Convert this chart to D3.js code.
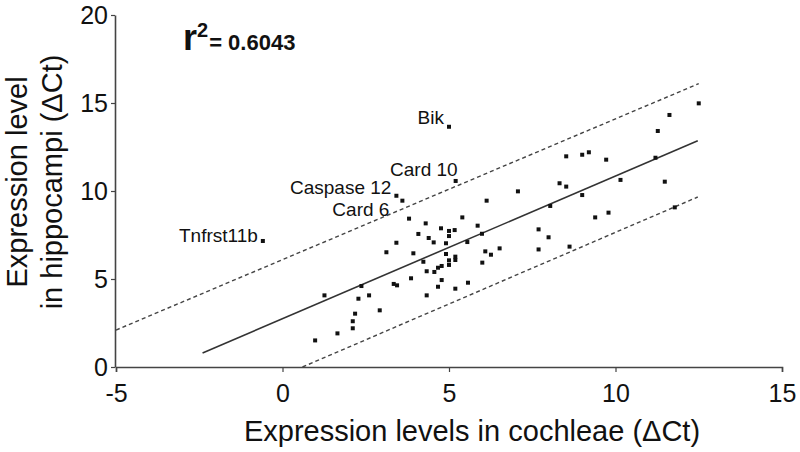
<!DOCTYPE html>
<html lang='en'>
<head>
    <meta charset='UTF-8'>
    <title>Cochlea vs hippocampi expression</title>
    <style>
        body { margin: 0; background: #fff; }
        svg text { font-family: 'Liberation Sans', Arial, sans-serif; fill: #111; }
    </style>
</head>
<body>
<div id="chart-area"></div>
<script src='https://d3js.org/d3.v7.min.js'></script>
<script>

    // expression levels (delta Ct): cochleae on x, hippocampi on y
    const cochleaValues = [
        5.0, 5.2, 3.42, 3.6, -0.59,
        6.13, 3.8, 5.4, 4.3, 4.76, 5.0, 5.17, 5.86, 4.08, 4.39, 4.54, 5.0, 4.91,
        3.42, 3.12, 3.93, 5.55, 5.99, 4.91, 5.0, 5.19, 5.19, 4.23, 5.0, 4.78, 4.67,
        4.33, 4.56, 6.09, 6.26, 6.0, 6.52, 3.86, 3.34, 3.44, 4.78, 4.67, 5.19, 5.57,
        4.33, 2.37, 1.26, 2.6, 2.28, 2.92, 2.18, 2.11, 2.11, 1.65, 0.98,
        12.5, 11.62, 11.27, 8.52, 9.0, 9.2, 9.72, 11.2, 8.32, 8.52, 7.07, 10.15,
        11.48, 9.0, 8.04, 9.39, 9.79, 11.78, 7.69, 7.99, 7.69, 8.62
    ];
    const hippocampiValues = [
        13.65, 10.57, 9.73, 9.45, 7.16,
        9.45, 8.43, 8.5, 8.16, 7.88, 7.73, 7.78, 8.03, 7.56, 7.33, 7.08, 7.44, 7.03,
        7.06, 6.52, 6.46, 7.1, 7.57, 6.42, 6.06, 6.27, 6.08, 5.98, 5.8, 5.74, 5.64,
        5.44, 5.4, 6.57, 6.38, 5.93, 6.74, 5.04, 4.72, 4.64, 4.94, 4.56, 4.45, 4.79,
        4.07, 4.6, 4.07, 4.07, 3.88, 3.22, 3.03, 2.6, 2.2, 1.91, 1.51,
        14.98, 14.32, 13.41, 11.97, 12.06, 12.2, 11.78, 11.89, 10.44, 10.25, 9.98, 10.63,
        10.53, 9.77, 9.15, 8.5, 8.77, 9.07, 7.82, 7.37, 6.68, 6.84
    ];
    // gene names for the first few points
    const geneLabels = ['Bik', 'Card 10', 'Caspase 12', 'Card 6', 'Tnfrst11b'];

    // regression line and its prediction band, as [x, y] end points
    const fitLine = [[-2.4, 0.8], [12.47, 12.85]];
    const upperBand = [[-5, 2.1], [12.5, 16.1]];
    const lowerBand = [[0.6, 0], [12.47, 9.66]];

    const xTicks = [-5, 0, 5, 10, 15];
    const yTicks = [0, 5, 10, 15, 20];
    const rSquared = '0.6043';

    const points = cochleaValues.map((x, i) => ({x: x, y: hippocampiValues[i], label: geneLabels[i]}));

    const outerWidth = 800;
    const outerHeight = 452;
    const axisColor = '#444';

    const svg = d3.select('#chart-area').append('svg')
        .attr('width', outerWidth)
        .attr('height', outerHeight);

    const xScale = d3.scaleLinear().domain([-5, 15]).range([116, 782]);
    const yScale = d3.scaleLinear().domain([0, 20]).range([367, 15]);

    const gx = svg.append('g')
        .attr('transform', `translate(0, ${yScale(0)})`)
        .call(d3.axisBottom(xScale).tickValues(xTicks).tickFormat(d => String(d))
            .tickSize(5).tickPadding(12).tickSizeOuter(5));
    const gy = svg.append('g')
        .attr('transform', `translate(${xScale(-5) - 1}, 0)`)
        .call(d3.axisLeft(yScale).tickValues(yTicks).tickSize(4).tickPadding(3).tickSizeOuter(0));

    [gx, gy].forEach(g => {
        g.select('.domain').attr('stroke', axisColor).attr('stroke-width', 1.6);
        g.selectAll('.tick line').attr('stroke', axisColor).attr('stroke-width', 1.2);
        g.selectAll('.tick text')
            .attr('fill', '#111')
            .style('font-family', "'Liberation Sans', Arial, sans-serif")
            .style('font-size', '25px');
    });

    const line = d3.line().x(d => xScale(d[0])).y(d => yScale(d[1]));

    svg.append('path')
        .attr('d', line(fitLine))
        .attr('stroke', '#333')
        .attr('stroke-width', 1.6)
        .attr('fill', 'none');

    svg.selectAll('.band')
        .data([upperBand, lowerBand])
        .enter().append('path')
        .attr('class', 'band')
        .attr('d', d => line(d))
        .attr('stroke', '#444')
        .attr('stroke-width', 1.4)
        .attr('stroke-dasharray', '4,3')
        .attr('fill', 'none');

    svg.append('g')
        .selectAll('rect')
        .data(points)
        .enter().append('rect')
        .attr('x', d => xScale(d.x) - 2)
        .attr('y', d => yScale(d.y) - 2)
        .attr('width', 4)
        .attr('height', 4)
        .attr('fill', '#111');

    // label offsets relative to each labelled point
    const labelOffset = {
        'Bik': [-5, -3],
        'Card 10': [2, -5],
        'Caspase 12': [-5, -2],
        'Card 6': [-13, 15],
        'Tnfrst11b': [-5, 1]
    };

    svg.append('g')
        .selectAll('text')
        .data(points.filter(d => d.label))
        .enter().append('text')
        .attr('x', d => xScale(d.x) + labelOffset[d.label][0])
        .attr('y', d => yScale(d.y) + labelOffset[d.label][1])
        .attr('text-anchor', 'end')
        .style('font-size', '19px')
        .text(d => d.label);

    // r squared annotation
    const rText = svg.append('text')
        .attr('x', 183)
        .attr('y', 50)
        .style('font-weight', 'bold');
    rText.append('tspan').style('font-size', '36px').text('r');
    rText.append('tspan').attr('dy', -13).style('font-size', '20px').text('2');
    rText.append('tspan').attr('dy', 13).attr('dx', 1).style('font-size', '22px').text('= ' + rSquared);

    // axis titles
    svg.append('text')
        .attr('x', 472)
        .attr('y', 441)
        .attr('text-anchor', 'middle')
        .style('font-size', '29px')
        .text('Expression levels in cochleae (\u0394Ct)');

    const yTitle = svg.append('text')
        .attr('transform', 'translate(0, 182) rotate(-90)')
        .attr('text-anchor', 'middle')
        .style('font-size', '29px');
    yTitle.append('tspan').attr('x', 0).attr('y', 27).text('Expression level');
    yTitle.append('tspan').attr('x', 0).attr('y', 62).text('in hippocampi (\u0394Ct)');

</script>
</body>
</html>
